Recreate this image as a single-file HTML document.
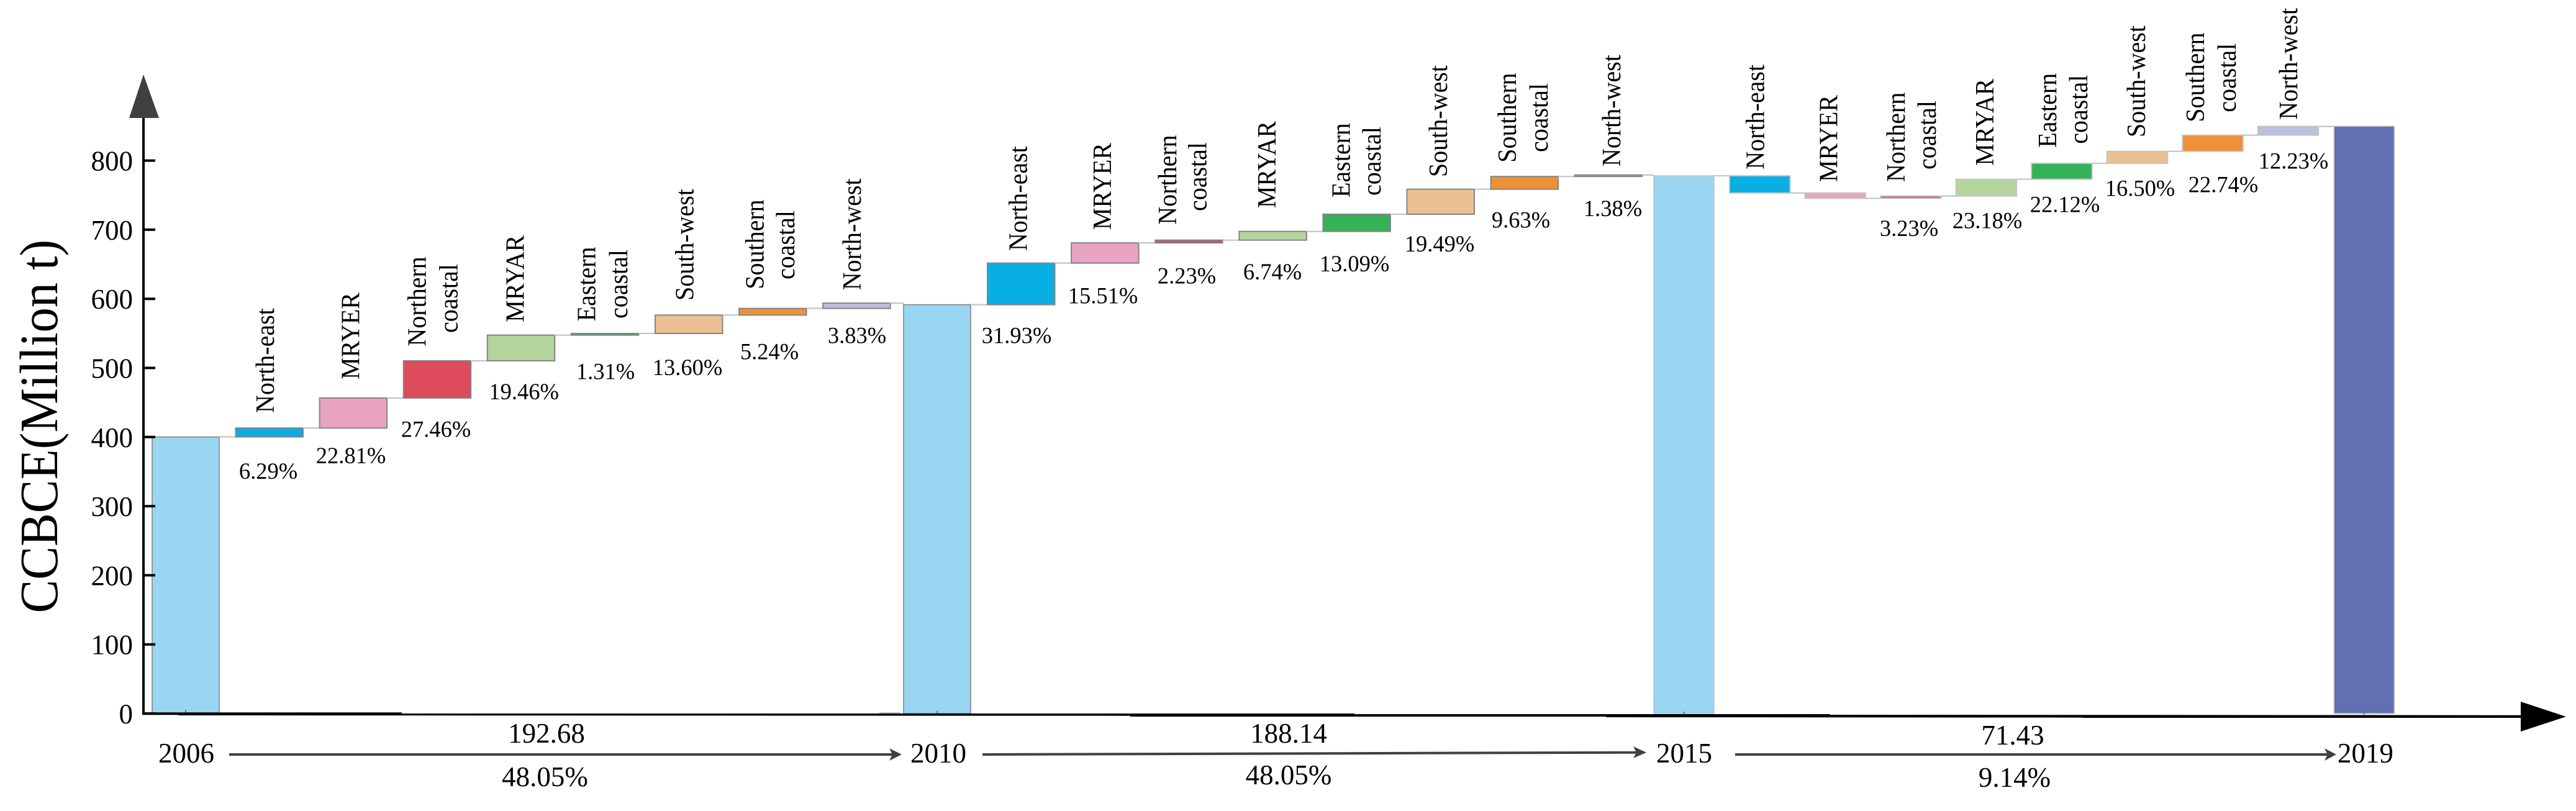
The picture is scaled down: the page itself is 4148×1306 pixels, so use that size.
<!DOCTYPE html>
<html lang="en">
<head>
<meta charset="utf-8">
<title>CCBCE waterfall 2006-2019</title>
<style>
html,body{margin:0;padding:0;background:#fff;}
svg{display:block;}
text{font-family:"Liberation Serif",serif;fill:#000;}
.tick{font-size:45px;text-anchor:end;}
.reg{font-size:40px;}
.pct{font-size:36.5px;text-anchor:middle;}
.big{font-size:45px;text-anchor:middle;}
</style>
</head>
<body>
<svg id="chart" xmlns="http://www.w3.org/2000/svg" width="4148" height="1306" viewBox="0 0 4148 1306">
  <g id="marks"></g>
  <g id="axis"></g>

  <line x1="231" y1="185" x2="231" y2="1151" stroke="#000" stroke-width="4"/>
  <polygon points="231,120 256,190 208,190" fill="#404040"/>
  <polygon points="229,1147.3 647,1147.3 647,1149 2181,1149 2181,1150 2947,1150 2947,1151 4065,1151.7 4065,1156 3354,1156 3354,1155.6 2586,1155 2586,1154 1820,1154 1820,1152.7 287,1152 287,1151.3 229,1151.3" fill="#000"/>
  <polygon points="4059,1130 4132,1154 4059,1178" fill="#000"/>
  <rect x="1416" y="1147" width="33" height="2" fill="#bbb"/>

  <text transform="translate(92,686.5) rotate(-90) scale(1,1.08)" text-anchor="middle" font-size="80.5">CCBCE(Million t)</text>

  <!-- year labels -->
  <text class="big" x="300" y="1228">2006</text>
  <text class="big" x="1511" y="1228">2010</text>
  <text class="big" x="2712" y="1228">2015</text>
  <text class="big" x="3809" y="1228">2019</text>

  <!-- period arrows -->
  <g fill="#404040" stroke="none">
    <line x1="369" y1="1215" x2="1440" y2="1215" stroke="#404040" stroke-width="4"/>
    <polygon points="1432,1205 1452,1215 1432,1225 1437,1215"/>
  </g>
  <g fill="#404040" stroke="none">
    <line x1="1582" y1="1215" x2="2640" y2="1211.7" stroke="#404040" stroke-width="4"/>
    <polygon points="2630,1202 2651,1211.7 2630,1221 2635,1211.7"/>
  </g>
  <g fill="#404040" stroke="none">
    <line x1="2794" y1="1215" x2="3750" y2="1215" stroke="#404040" stroke-width="4"/>
    <polygon points="3743,1205 3762,1215 3743,1225 3748,1215"/>
  </g>

  <!-- period totals -->
  <text class="big" x="880" y="1196">192.68</text>
  <text class="big" x="877.5" y="1266">48.05%</text>
  <text class="big" x="2075" y="1196">188.14</text>
  <text class="big" x="2075" y="1263">48.05%</text>
  <text class="big" x="3241" y="1199">71.43</text>
  <text class="big" x="3244" y="1267">9.14%</text>

  <!-- region labels, 2006-2010 -->
  <text class="reg" transform="translate(441,665) rotate(-90) scale(1,1.07)">North-east</text>
  <text class="reg" transform="translate(578.5,611) rotate(-90) scale(1,1.07)">MRYER</text>
  <text class="reg" transform="translate(685.6,557.6) rotate(-90) scale(1,1.07)">Northern</text>
  <text class="reg" transform="translate(736.6,536) rotate(-90) scale(1,1.07)">coastal</text>
  <text class="reg" transform="translate(843.7,518.7) rotate(-90) scale(1,1.07)">MRYAR</text>
  <text class="reg" transform="translate(958.5,517.4) rotate(-90) scale(1,1.07)">Eastern</text>
  <text class="reg" transform="translate(1010,513) rotate(-90) scale(1,1.07)">coastal</text>
  <text class="reg" transform="translate(1116.7,484) rotate(-90) scale(1,1.07)">South-west</text>
  <text class="reg" transform="translate(1229.6,465.7) rotate(-90) scale(1,1.07)">Southern</text>
  <text class="reg" transform="translate(1279,450) rotate(-90) scale(1,1.07)">coastal</text>
  <text class="reg" transform="translate(1385.8,467.3) rotate(-90) scale(1,1.07)">North-west</text>

  <!-- region labels, 2010-2015 -->
  <text class="reg" transform="translate(1653.7,404) rotate(-90) scale(1,1.07)">North-east</text>
  <text class="reg" transform="translate(1789,370) rotate(-90) scale(1,1.07)">MRYER</text>
  <text class="reg" transform="translate(1894,361.7) rotate(-90) scale(1,1.07)">Northern</text>
  <text class="reg" transform="translate(1942.6,340) rotate(-90) scale(1,1.07)">coastal</text>
  <text class="reg" transform="translate(2054,335) rotate(-90) scale(1,1.07)">MRYAR</text>
  <text class="reg" transform="translate(2173.5,318) rotate(-90) scale(1,1.07)">Eastern</text>
  <text class="reg" transform="translate(2223,315) rotate(-90) scale(1,1.07)">coastal</text>
  <text class="reg" transform="translate(2330,285) rotate(-90) scale(1,1.07)">South-west</text>
  <text class="reg" transform="translate(2441,261.7) rotate(-90) scale(1,1.07)">Southern</text>
  <text class="reg" transform="translate(2492,245) rotate(-90) scale(1,1.07)">coastal</text>
  <text class="reg" transform="translate(2609,268) rotate(-90) scale(1,1.07)">North-west</text>

  <!-- region labels, 2015-2019 -->
  <text class="reg" transform="translate(2840.6,272.7) rotate(-90) scale(1,1.07)">North-east</text>
  <text class="reg" transform="translate(2958.5,293) rotate(-90) scale(1,1.07)">MRYER</text>
  <text class="reg" transform="translate(3067,293) rotate(-90) scale(1,1.07)">Northern</text>
  <text class="reg" transform="translate(3117,273) rotate(-90) scale(1,1.07)">coastal</text>
  <text class="reg" transform="translate(3210,266.7) rotate(-90) scale(1,1.07)">MRYAR</text>
  <text class="reg" transform="translate(3311,237.7) rotate(-90) scale(1,1.07)">Eastern</text>
  <text class="reg" transform="translate(3361,231.7) rotate(-90) scale(1,1.07)">coastal</text>
  <text class="reg" transform="translate(3454,221) rotate(-90) scale(1,1.07)">South-west</text>
  <text class="reg" transform="translate(3549,196.7) rotate(-90) scale(1,1.07)">Southern</text>
  <text class="reg" transform="translate(3600,180.7) rotate(-90) scale(1,1.07)">coastal</text>
  <text class="reg" transform="translate(3699,192.7) rotate(-90) scale(1,1.07)">North-west</text>

  <!-- percentage labels -->
  <text class="pct" x="432" y="771">6.29%</text>
  <text class="pct" x="565" y="746">22.81%</text>
  <text class="pct" x="702" y="703.6">27.46%</text>
  <text class="pct" x="843.6" y="643">19.46%</text>
  <text class="pct" x="975" y="610.7">1.31%</text>
  <text class="pct" x="1107" y="604">13.60%</text>
  <text class="pct" x="1239" y="578.3">5.24%</text>
  <text class="pct" x="1380" y="552.7">3.83%</text>

  <text class="pct" x="1637" y="552.7">31.93%</text>
  <text class="pct" x="1776" y="488.3">15.51%</text>
  <text class="pct" x="1911" y="456.7">2.23%</text>
  <text class="pct" x="2049" y="450">6.74%</text>
  <text class="pct" x="2181" y="437">13.09%</text>
  <text class="pct" x="2318" y="405">19.49%</text>
  <text class="pct" x="2449" y="366.7">9.63%</text>
  <text class="pct" x="2597" y="348">1.38%</text>

  <text class="pct" x="3074" y="380">3.23%</text>
  <text class="pct" x="3200" y="367.7">23.18%</text>
  <text class="pct" x="3325" y="341.7">22.12%</text>
  <text class="pct" x="3446" y="315.7">16.50%</text>
  <text class="pct" x="3580" y="309.3">22.74%</text>
  <text class="pct" x="3693" y="271.7">12.23%</text>
</svg>

<script>
const yTickValues = [0, 100, 200, 300, 400, 500, 600, 700, 800];
const regionNames = ['north-east', 'mryer', 'northern-coastal', 'mryar', 'eastern-coastal', 'south-west', 'southern-coastal', 'north-west'];
const regionColors = ['#08afe4', '#e8a4c0', '#dd4b5c', '#b3d49d', '#33b258', '#ebc093', '#ef9137', '#bcbfdd'];
const yearNames = ['2006', '2010', '2015', '2019'];
const yearTotals = [400.2, 591.5, 778.0, 849.7];
const deltas2006to2010 = [12.85, 43.4, 53.9, 37.1, 2.4, 26.6, 9.7, 7.6];
const deltas2010to2015 = [60.2, 29.2, 4.0, 12.6, 24.9, 36.2, 18.4, 2.2];
const deltas2015to2019 = [-24.9, -7.7, 3.3, 24.3, 23.0, 17.4, 23.4, 12.6];
const periodDeltas = [deltas2006to2010, deltas2010to2015, deltas2015to2019];

const NS = 'http://www.w3.org/2000/svg';
const marks = document.getElementById('marks');
const axis = document.getElementById('axis');

function yScale(v) { return 1149 - v * 1.113; }
function anchorLeft(i) { return [245, 1455, 2663, 3758.4][i]; }
function anchorWidth(i) { return i < 2 ? 108 : 97; }
function deltaLeft(period, k) {
  if (period === 0) return 379.5 + k * 135.1;
  if (period === 1) return 1590 + k * 135.1;
  return 2785 + k * 121.55;
}
function deltaWidth(period) { return period < 2 ? 108.5 : 97.5; }
function strokeFor(period) { return period < 2 ? '#858585' : '#c4c4c4'; }

function addConnector(x1, x2, y) {
  const c = document.createElementNS(NS, 'line');
  
  
  c.setAttribute('x1', x1);
  c.setAttribute('x2', x2);
  c.setAttribute('y1', y);
  c.setAttribute('y2', y);
  c.setAttribute('stroke', '#c4c4c4');
  c.setAttribute('stroke-width', '2.2');
  marks.appendChild(c);
}

yearTotals.forEach(function (total, i) {
  const bar = document.createElementNS(NS, 'rect');
  
  
  bar.setAttribute('x', anchorLeft(i));
  bar.setAttribute('y', yScale(total));
  bar.setAttribute('width', anchorWidth(i));
  bar.setAttribute('height', yScale(0) - yScale(total));
  bar.setAttribute('fill', i === 3 ? '#626fb0' : '#98d6f2');
  bar.setAttribute('stroke', i === 0 || i === 1 ? '#858585' : '#c4c4c4');
  bar.setAttribute('stroke-width', '1.6');
  marks.appendChild(bar);

  const tick = document.createElementNS(NS, 'line');
  
  
  tick.setAttribute('x1', anchorLeft(i) + anchorWidth(i) / 2);
  tick.setAttribute('x2', anchorLeft(i) + anchorWidth(i) / 2);
  tick.setAttribute('y1', 1143 + i * 1.5);
  tick.setAttribute('y2', 1151);
  tick.setAttribute('stroke', '#555');
  tick.setAttribute('stroke-width', '1.5');
  marks.appendChild(tick);
});

periodDeltas.forEach(function (deltas, p) {
  let level = yearTotals[p];
  addConnector(anchorLeft(p) + anchorWidth(p), deltaLeft(p, 0), yScale(level));
  deltas.forEach(function (d, k) {
    const next = level + d;
    const bar = document.createElementNS(NS, 'rect');
    
    
    bar.setAttribute('x', deltaLeft(p, k));
    bar.setAttribute('y', Math.min(yScale(level), yScale(next)));
    bar.setAttribute('width', deltaWidth(p));
    bar.setAttribute('height', Math.abs(yScale(next) - yScale(level)));
    bar.setAttribute('fill', regionColors[k]);
    bar.setAttribute('stroke', strokeFor(p));
    bar.setAttribute('stroke-width', '2');
    marks.appendChild(bar);
    const nextX = k < deltas.length - 1 ? deltaLeft(p, k + 1) : anchorLeft(p + 1);
    addConnector(deltaLeft(p, k) + deltaWidth(p), nextX, yScale(next));
    level = next;
  });
});

yTickValues.forEach(function (v) {
  const t = document.createElementNS(NS, 'line');
  
  
  t.setAttribute('x1', 231);
  t.setAttribute('x2', 250);
  t.setAttribute('y1', yScale(v));
  t.setAttribute('y2', yScale(v));
  t.setAttribute('stroke', '#000');
  t.setAttribute('stroke-width', '4');
  axis.appendChild(t);

  const l = document.createElementNS(NS, 'text');
  
  
  l.setAttribute('class', 'tick');
  l.setAttribute('x', 214);
  l.setAttribute('y', yScale(v) + 16);
  l.textContent = String(v);
  axis.appendChild(l);
});
</script>
</body>
</html>
